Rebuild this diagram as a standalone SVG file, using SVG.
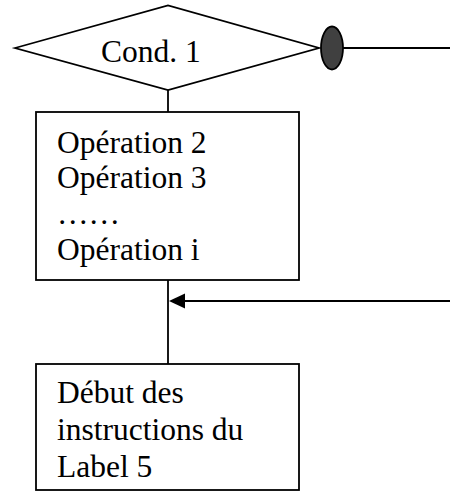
<svg xmlns="http://www.w3.org/2000/svg" width="450" height="492" viewBox="0 0 450 492">
<defs>
<style>
.shape{fill:#fff;stroke:#000;stroke-width:1.8}
.line{fill:none;stroke:#000;stroke-width:1.8}
text{font-family:"Liberation Serif","Times New Roman",serif;font-size:31.5px;fill:#000}
</style>
</defs>
<rect width="450" height="492" fill="#fff"/>
<g id="connectors">
<line class="line" x1="168" y1="90" x2="168" y2="112"/>
<line class="line" x1="168" y1="280" x2="168" y2="364"/>
<line class="line" x1="343" y1="48" x2="450" y2="48"/>
<path class="line" d="M450,301 L184,301"/>
<path d="M169,301 L185,293.5 L185,308.5 Z" fill="#000"/>
</g>
<g id="cond1">
<polygon class="shape" points="15,48 168,5.5 319,48 168,90"/>
<text x="101" y="62">Cond. 1</text>
</g>
<g id="connector-dot">
<ellipse cx="332" cy="48" rx="11" ry="21.5" fill="#404040" stroke="#000" stroke-width="1.8"/>
</g>
<g id="operations">
<rect class="shape" x="36" y="112" width="263" height="168"/>
<text x="57" y="153">Opération 2</text>
<text x="57" y="188">Opération 3</text>
<text x="57" y="224">……</text>
<text x="57" y="260">Opération i</text>
</g>
<g id="label5">
<rect class="shape" x="36" y="364" width="263" height="126"/>
<text x="57" y="403">Début des</text>
<text x="57" y="440">instructions du</text>
<text x="57" y="477">Label 5</text>
</g>
</svg>
